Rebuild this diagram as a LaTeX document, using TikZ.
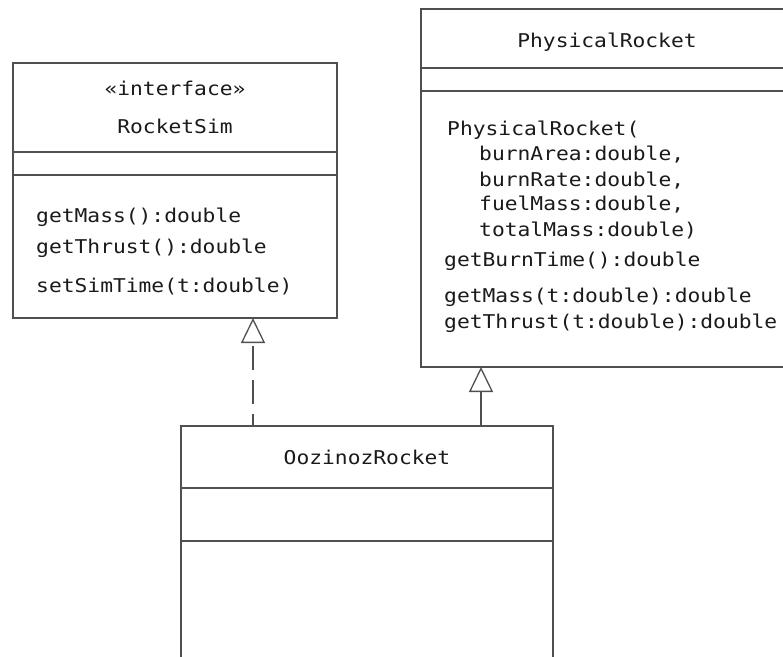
\documentclass[tikz,border=0pt]{standalone}
\usepackage{xcolor}
\usepackage{fontspec}
\usepackage{tikz}
\usetikzlibrary{arrows.meta}
\setmonofont[FakeStretch=1.12]{DejaVu Sans Mono}
\definecolor{umlline}{HTML}{505050}
\definecolor{umltext}{HTML}{1A1A1A}
\tikzset{
    compart/.style={draw=umlline, line width=1.3pt, inner sep=0pt, outer sep=0pt, anchor=north west},
    member/.style={anchor=base west, inner sep=0pt, text=umltext,
        font=\ttfamily\fontsize{19}{23}\selectfont},
    caption/.style={member, anchor=base},
    inherit/.style={draw=umlline, line width=1.3pt, -{Triangle[open, length=25pt, width=24pt]}},
    realize/.style={inherit, dash pattern=on 24pt off 10pt, dash phase=12pt},
}

\begin{document}
\begin{tikzpicture}[x=1pt, y=-1pt]
        \clip (0,0) rectangle (783,656);

        \node[compart, minimum width=324pt, minimum height=89pt] (simname) at (13,63) {};
        \node[compart, minimum width=324pt, minimum height=23pt] (simattr) at (simname.south west) {};
        \node[compart, minimum width=324pt, minimum height=143pt] (simmeth) at (simattr.south west) {};
        \node[caption] (simstereo) at (175,95) {«interface»};
        \node[caption] (simtitle) at (175,133) {RocketSim};
        \node[member] (simmass) at (36,222) {getMass():double};
        \node[member] (simthrust) at (36,253) {getThrust():double};
        \node[member] (simtime) at (36,292) {setSimTime(t:double)};

        \node[compart, minimum width=372pt, minimum height=59pt] (physname) at (421,9) {};
        \node[compart, minimum width=372pt, minimum height=23pt] (physattr) at (physname.south west) {};
        \node[compart, minimum width=372pt, minimum height=276pt] (physmeth) at (physattr.south west) {};
        \node[caption] (phystitle) at (607,47) {PhysicalRocket};
        \node[member] (physctor) at (447,135) {PhysicalRocket(};
        \node[member] (physarea) at (479,160) {burnArea:double,};
        \node[member] (physrate) at (479,186) {burnRate:double,};
        \node[member] (physfuel) at (479,210) {fuelMass:double,};
        \node[member] (phystotal) at (479,236) {totalMass:double)};
        \node[member] (physburn) at (444,266) {getBurnTime():double};
        \node[member] (physmass) at (444,302) {getMass(t:double):double};
        \node[member] (physthrust) at (444,328) {getThrust(t:double):double};

        \node[compart, minimum width=372pt, minimum height=62pt] (oozname) at (181,426) {};
        \node[compart, minimum width=372pt, minimum height=53pt] (oozattr) at (oozname.south west) {};
        \node[compart, minimum width=372pt, minimum height=160pt] (oozmeth) at (oozattr.south west) {};
        \node[caption] (ooztitle) at (367,464) {OozinozRocket};

        \coordinate (oozleft) at (253,426);
        \coordinate (oozright) at (481,426);
        \draw[realize] (oozleft) -- (oozleft |- simmeth.south);
        \draw[inherit] (oozright) -- (oozright |- physmeth.south);
\end{tikzpicture}
\end{document}
